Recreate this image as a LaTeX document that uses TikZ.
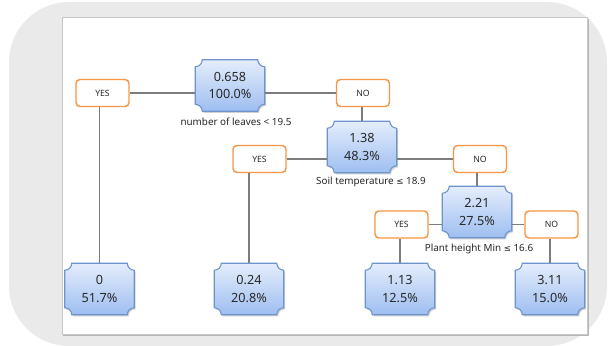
\documentclass[tikz,border=0pt]{standalone}
\usepackage{fontspec}
\setmainfont{Noto Sans}
\newfontfamily\symfont{DejaVu Sans}
\usetikzlibrary{calc,backgrounds}

\definecolor{boxline}{RGB}{110,148,206}
\definecolor{boxtop}{RGB}{228,237,252}
\definecolor{boxbot}{RGB}{158,190,240}
\definecolor{answline}{RGB}{247,150,70}
\definecolor{linkgray}{RGB}{125,125,125}
\definecolor{framegray}{RGB}{234,234,234}
\definecolor{txtgray}{RGB}{40,40,40}

\tikzset{
  valnode/.style={minimum width=51.75pt,minimum height=38.25pt,inner sep=0pt,align=center,
    font=\fontsize{9.5}{13}\selectfont,text=txtgray},
  answnode/.style={draw=answline,line width=1.1pt,rounded corners=3pt,fill=white,
    minimum width=39.75pt,minimum height=20.25pt,inner sep=0pt,font=\fontsize{6.5}{8}\selectfont,text=txtgray},
  condlabel/.style={font=\fontsize{7.4}{8}\selectfont,text=txtgray,inner sep=0.75pt},
  link/.style={draw=linkgray,line width=1.1pt},
  plaque/.style={draw=boxline,line width=0.8pt,top color=boxtop,bottom color=boxbot,
    preaction={fill=black!18,transform canvas={xshift=1pt,yshift=-1.2pt}}},
}
\newcommand{\lesseq}{{\symfont\fontsize{6.5}{8}\selectfont ≤}}

\begin{document}
\begin{tikzpicture}[x=0.75pt,y=0.75pt,yscale=-1,xscale=1]
\useasboundingbox (0,0) rectangle (608,346);

% value nodes
\node[valnode] (root) at (230,85.5) {0.658\\100.0\%};
\node[valnode] (n138) at (362,147) {1.38\\48.3\%};
\node[valnode] (n221) at (477,212) {2.21\\27.5\%};
\node[valnode] (leafa) at (99.5,289) {0\\51.7\%};
\node[valnode] (leafb) at (249,289) {0.24\\20.8\%};
\node[valnode] (leafc) at (400,289) {1.13\\12.5\%};
\node[valnode] (leafd) at (550,289) {3.11\\15.0\%};

% answer boxes
\node[answnode] (yes1) at (102.5,93) {YES};
\node[answnode] (no1) at (363,93) {NO};
\node[answnode] (yes2) at (259.5,159) {YES};
\node[answnode] (no2) at (480,159) {NO};
\node[answnode] (yes3) at (401.5,224.5) {YES};
\node[answnode] (no3) at (551.5,224.5) {NO};

% split rules
\node[condlabel] (cond1) at (236,122) {number of leaves < 19.5};
\node[condlabel] (cond2) at (371,182) {Soil temperature \lesseq{} 18.9};
\node[condlabel] (cond3) at (479,249) {Plant height Min \lesseq{} 16.6};

% frame
\begin{scope}[on background layer]
\fill[framegray] (9,2) [rounded corners=45] rectangle (607,346);
\fill[black!28] (63,19) rectangle (589,336);
\draw[black!22,fill=white] (62,17) rectangle (587,334);
\end{scope}

% plaque outlines
\begin{scope}[on background layer,yscale=-1]
\foreach \n in {root,n138,n221,leafa,leafb,leafc,leafd}{
  \draw[plaque] ($(\n.north west)+(7,0)$) -- ($(\n.north east)+(-7,0)$) arc[start angle=180,end angle=270,radius=7]
    -- ($(\n.south east)+(0,7)$) arc[start angle=90,end angle=180,radius=7]
    -- ($(\n.south west)+(7,0)$) arc[start angle=0,end angle=90,radius=7]
    -- ($(\n.north west)+(0,-7)$) arc[start angle=270,end angle=360,radius=7] -- cycle;
}
\end{scope}

% links
\draw[link] (yes1.east) -- (yes1.east -| root.west);
\draw[link] (root.east |- no1) -- (no1.west);
\draw[link] (yes1.south -| leafa) -- (leafa.north);
\draw[link] (no1.south -| n138) -- (n138.north);
\draw[link] (yes2.east) -- (yes2.east -| n138.west);
\draw[link] (n138.east |- no2) -- (no2.west);
\draw[link] (yes2.south -| leafb) -- (leafb.north);
\draw[link] (no2.south -| n221) -- (n221.north);
\draw[link] (yes3.east) -- (yes3.east -| n221.west);
\draw[link] (n221.east |- no3) -- (no3.west);
\draw[link] (yes3.south -| leafc) -- (leafc.north);
\draw[link] (no3.south -| leafd) -- (leafd.north);

\end{tikzpicture}
\end{document}
